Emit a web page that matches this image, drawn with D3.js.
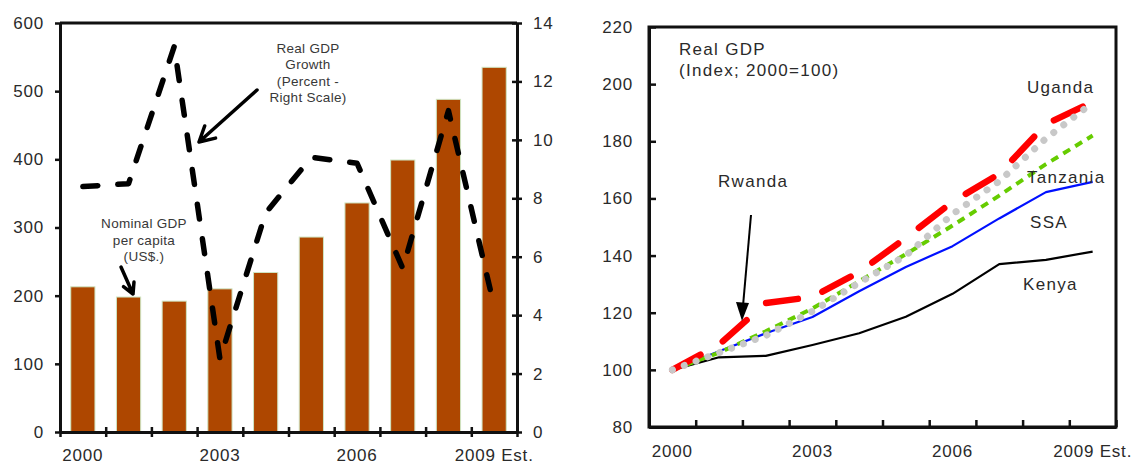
<!DOCTYPE html>
<html>
<head>
<meta charset="utf-8">
<script src="https://cdn.jsdelivr.net/npm/d3@7"></script>
<style>
  body { margin: 0; background: #fff; }
  svg { display: block; font-family: Arial, "Liberation Sans", sans-serif; }
</style>
</head>
<body>
<svg id="chart" width="1134" height="464"></svg>
<script>
// Données
const years = ['2000', '2001', '2002', '2003', '2004', '2005', '2006', '2007', '2008', '2009'];
const xLabels = ['2000', '', '', '2003', '', '', '2006', '', '', '2009 Est.'];

// panneau gauche : PIB nominal par habitant (US$) et croissance du PIB réel (%)
const gdpPerCapita = [213, 198, 192, 210, 234, 286, 336, 399, 488, 535];
const gdpGrowth = [8.4, 8.5, 13.2, 2.5, 7.5, 9.4, 9.2, 5.6, 11.0, 4.3];
const leftTicks = [0, 100, 200, 300, 400, 500, 600];
const rightTicks = [0, 2, 4, 6, 8, 10, 12, 14];

// panneau droit : PIB réel (indice 2000=100)
const kenya = [100, 104.4, 104.9, 108.7, 112.8, 118.6, 126.6, 137.0, 138.5, 141.4];
const ssa = [100, 106.5, 112.8, 118.5, 127.5, 136.0, 143.3, 153.0, 162.2, 165.8];
const tanzania = [100, 106.0, 113.5, 121.5, 131.0, 140.5, 150.5, 161.0, 172.0, 182.0];
const rwanda = [100, 108.8, 123.4, 125.5, 134.2, 146.2, 158.8, 168.6, 186.0, 193.8];
const uganda = [100, 106.0, 112.0, 120.5, 130.5, 140.0, 154.5, 166.0, 181.0, 193.5];
const indexTicks = [80, 100, 120, 140, 160, 180, 200, 220];

const svg = d3.select('#chart');
const axisColor = '#111';
const labelColor = '#2a2a2a';

function styleAxis(g) {
    g.select('.domain').attr('stroke', axisColor).attr('stroke-width', 3);
    g.selectAll('.tick line').attr('stroke', axisColor).attr('stroke-width', 2.5);
    g.selectAll('.tick text')
     .attr('fill', labelColor)
     .style('font-size', '17px')
     .style('letter-spacing', '0.8px');
}

// ---------- Panneau gauche ----------
const L = { left: 60, right: 517, top: 23, bottom: 432 };

const xBand = d3.scaleBand()
                .domain(years)
                .range([L.left, L.right])
                .paddingInner(0.47)
                .paddingOuter(0.235);

const xEdgeL = d3.scaleLinear().domain([0, years.length]).range([L.left, L.right]);

const yBar = d3.scaleLinear().domain([0, 600]).range([L.bottom, L.top]);
const yGrowth = d3.scaleLinear().domain([0, 14]).range([L.bottom, L.top]);

// barres
svg.append('g')
   .selectAll('rect')
   .data(gdpPerCapita)
   .join('rect')
   .attr('x', (d, i) => xBand(years[i]))
   .attr('y', d => yBar(d))
   .attr('width', xBand.bandwidth())
   .attr('height', d => yBar(0) - yBar(d))
   .attr('fill', '#ae4700')
   .attr('stroke', '#cfe5c2')
   .attr('stroke-width', 1);

// ligne de croissance
const growthLine = d3.line()
                     .x((d, i) => xBand(years[i]) + xBand.bandwidth() / 2)
                     .y(d => yGrowth(d));

svg.append('path')
   .datum(gdpGrowth)
   .attr('fill', 'none')
   .attr('stroke', '#000')
   .attr('stroke-width', 5.5)
   .attr('stroke-linecap', 'round')
   .attr('stroke-linejoin', 'round')
   .attr('stroke-dasharray', '15,20')
   .attr('d', growthLine);

// bordure haute
svg.append('line')
   .attr('x1', L.left).attr('x2', L.right)
   .attr('y1', L.top).attr('y2', L.top)
   .attr('stroke', axisColor).attr('stroke-width', 3);

// axe gauche
const axL = svg.append('g')
               .attr('transform', `translate(${L.left},0)`)
               .call(d3.axisLeft(yBar).tickValues(leftTicks).tickSize(5).tickSizeOuter(0).tickPadding(11));
styleAxis(axL);

// axe droit (ticks croisés)
const axR = svg.append('g')
               .attr('transform', `translate(${L.right},0)`)
               .call(d3.axisRight(yGrowth).tickValues(rightTicks).tickSize(5).tickSizeOuter(0).tickPadding(11));
styleAxis(axR);
axR.selectAll('.tick line').attr('x1', -5);

// axe bas : ticks aux limites des catégories
const axB = svg.append('g')
               .attr('transform', `translate(0,${L.bottom})`)
               .call(d3.axisBottom(xEdgeL).tickValues(d3.range(years.length + 1)).tickFormat('').tickSize(5).tickSizeOuter(0));
styleAxis(axB);
axB.selectAll('.tick line').attr('y1', -5);

// étiquettes des années
svg.append('g')
   .selectAll('text')
   .data(xLabels)
   .join('text')
   .attr('x', (d, i) => xBand(years[i]) + xBand.bandwidth() / 2)
   .attr('y', 461)
   .attr('text-anchor', 'middle')
   .attr('fill', labelColor)
   .style('font-size', '17px')
   .style('letter-spacing', '0.8px')
   .text(d => d);

// annotations
function multiline(lines, x, y, lh, size, ls) {
    const t = svg.append('text')
                 .attr('text-anchor', 'middle')
                 .attr('fill', '#383838')
                 .style('font-size', size + 'px')
                 .style('letter-spacing', ls + 'px');
    lines.forEach((s, i) => {
        t.append('tspan').attr('x', x).attr('y', y + i * lh).text(s);
    });
}
multiline(['Real GDP', 'Growth', '(Percent -', 'Right Scale)'], 308, 53, 16.3, 13.5, 0.3);
multiline(['Nominal GDP', 'per capita', '(US$.)'], 144, 228, 16.5, 13.5, 0.3);

// flèche ouverte (V)
function openArrow(x1, y1, x2, y2, head, w) {
    const a = Math.atan2(y2 - y1, x2 - x1);
    const h1 = [x2 - head * Math.cos(a - 0.5), y2 - head * Math.sin(a - 0.5)];
    const h2 = [x2 - head * Math.cos(a + 0.5), y2 - head * Math.sin(a + 0.5)];
    svg.append('path')
       .attr('d', `M${x1},${y1}L${x2},${y2}M${h1[0]},${h1[1]}L${x2},${y2}L${h2[0]},${h2[1]}`)
       .attr('fill', 'none')
       .attr('stroke', '#000')
       .attr('stroke-width', w)
       .attr('stroke-linecap', 'round')
       .attr('stroke-linejoin', 'round');
}
openArrow(257, 90, 199, 142, 17, 3.5);
openArrow(121, 267, 133, 294, 12, 3.5);

// ---------- Panneau droit ----------
const R = { left: 649, right: 1116, top: 27, bottom: 427 };

const xPoint = d3.scalePoint().domain(years).range([R.left, R.right]).padding(0.5);
const xEdgeR = d3.scaleLinear().domain([0, years.length]).range([R.left, R.right]);
const yIndex = d3.scaleLinear().domain([80, 220]).range([R.bottom, R.top]);

const axRL = svg.append('g')
                .attr('transform', `translate(${R.left},0)`)
                .call(d3.axisLeft(yIndex).tickValues(indexTicks).tickSize(0).tickSizeOuter(0).tickPadding(16));
styleAxis(axRL);
axRL.selectAll('.tick line').attr('x2', 7);

const axRB = svg.append('g')
                .attr('transform', `translate(0,${R.bottom})`)
                .call(d3.axisBottom(xEdgeR).tickValues(d3.range(years.length + 1)).tickFormat('').tickSize(0).tickSizeOuter(0));
styleAxis(axRB);
axRB.selectAll('.tick line').attr('y2', -7);

svg.append('g')
   .selectAll('text')
   .data(xLabels)
   .join('text')
   .attr('x', (d, i) => xPoint(years[i]))
   .attr('y', 457)
   .attr('text-anchor', 'middle')
   .attr('fill', labelColor)
   .style('font-size', '17px')
   .style('letter-spacing', '0.8px')
   .text(d => d);

const idxLine = d3.line()
                  .x((d, i) => xPoint(years[i]))
                  .y(d => yIndex(d));

const series = [
    { values: kenya, color: '#000', width: 2.2, dash: null, cap: 'butt' },
    { values: ssa, color: '#0010ff', width: 2.2, dash: null, cap: 'butt' },
    { values: tanzania, color: '#66cc00', width: 4, dash: '8,6', cap: 'butt' },
    { values: rwanda, color: '#ff0000', width: 6.5, dash: '32,26', cap: 'round' },
    { values: uganda, color: '#c8c8c8', width: 7, dash: '0.1,12.5', cap: 'round' }
];

series.forEach(s => {
    svg.append('path')
       .datum(s.values)
       .attr('fill', 'none')
       .attr('stroke', s.color)
       .attr('stroke-width', s.width)
       .attr('stroke-linecap', s.cap)
       .attr('stroke-linejoin', 'round')
       .attr('stroke-dasharray', s.dash)
       .attr('d', idxLine);
});

// cadre
svg.append('rect')
   .attr('x', R.left).attr('y', R.top)
   .attr('width', R.right - R.left).attr('height', R.bottom - R.top)
   .attr('fill', 'none')
   .attr('stroke', axisColor)
   .attr('stroke-width', 3);

// textes du panneau droit
function label(s, x, y, anchor) {
    svg.append('text')
       .attr('x', x).attr('y', y)
       .attr('text-anchor', anchor || 'start')
       .attr('fill', labelColor)
       .style('font-size', '17px')
       .style('letter-spacing', '1.3px')
       .text(s);
}
label('Real GDP', 679, 55);
label('(Index; 2000=100)', 679, 76);
label('Rwanda', 718, 187);
label('Uganda', 1027, 93);
label('Tanzania', 1027, 183);
label('SSA', 1030, 228);
label('Kenya', 1023, 290);

// flèche Rwanda (pleine)
svg.append('line')
   .attr('x1', 751).attr('y1', 215)
   .attr('x2', 743).attr('y2', 306)
   .attr('stroke', '#000').attr('stroke-width', 2);
svg.append('path')
   .attr('d', 'M736,302L742,321L749,303Z')
   .attr('fill', '#000');
</script>
</body>
</html>
